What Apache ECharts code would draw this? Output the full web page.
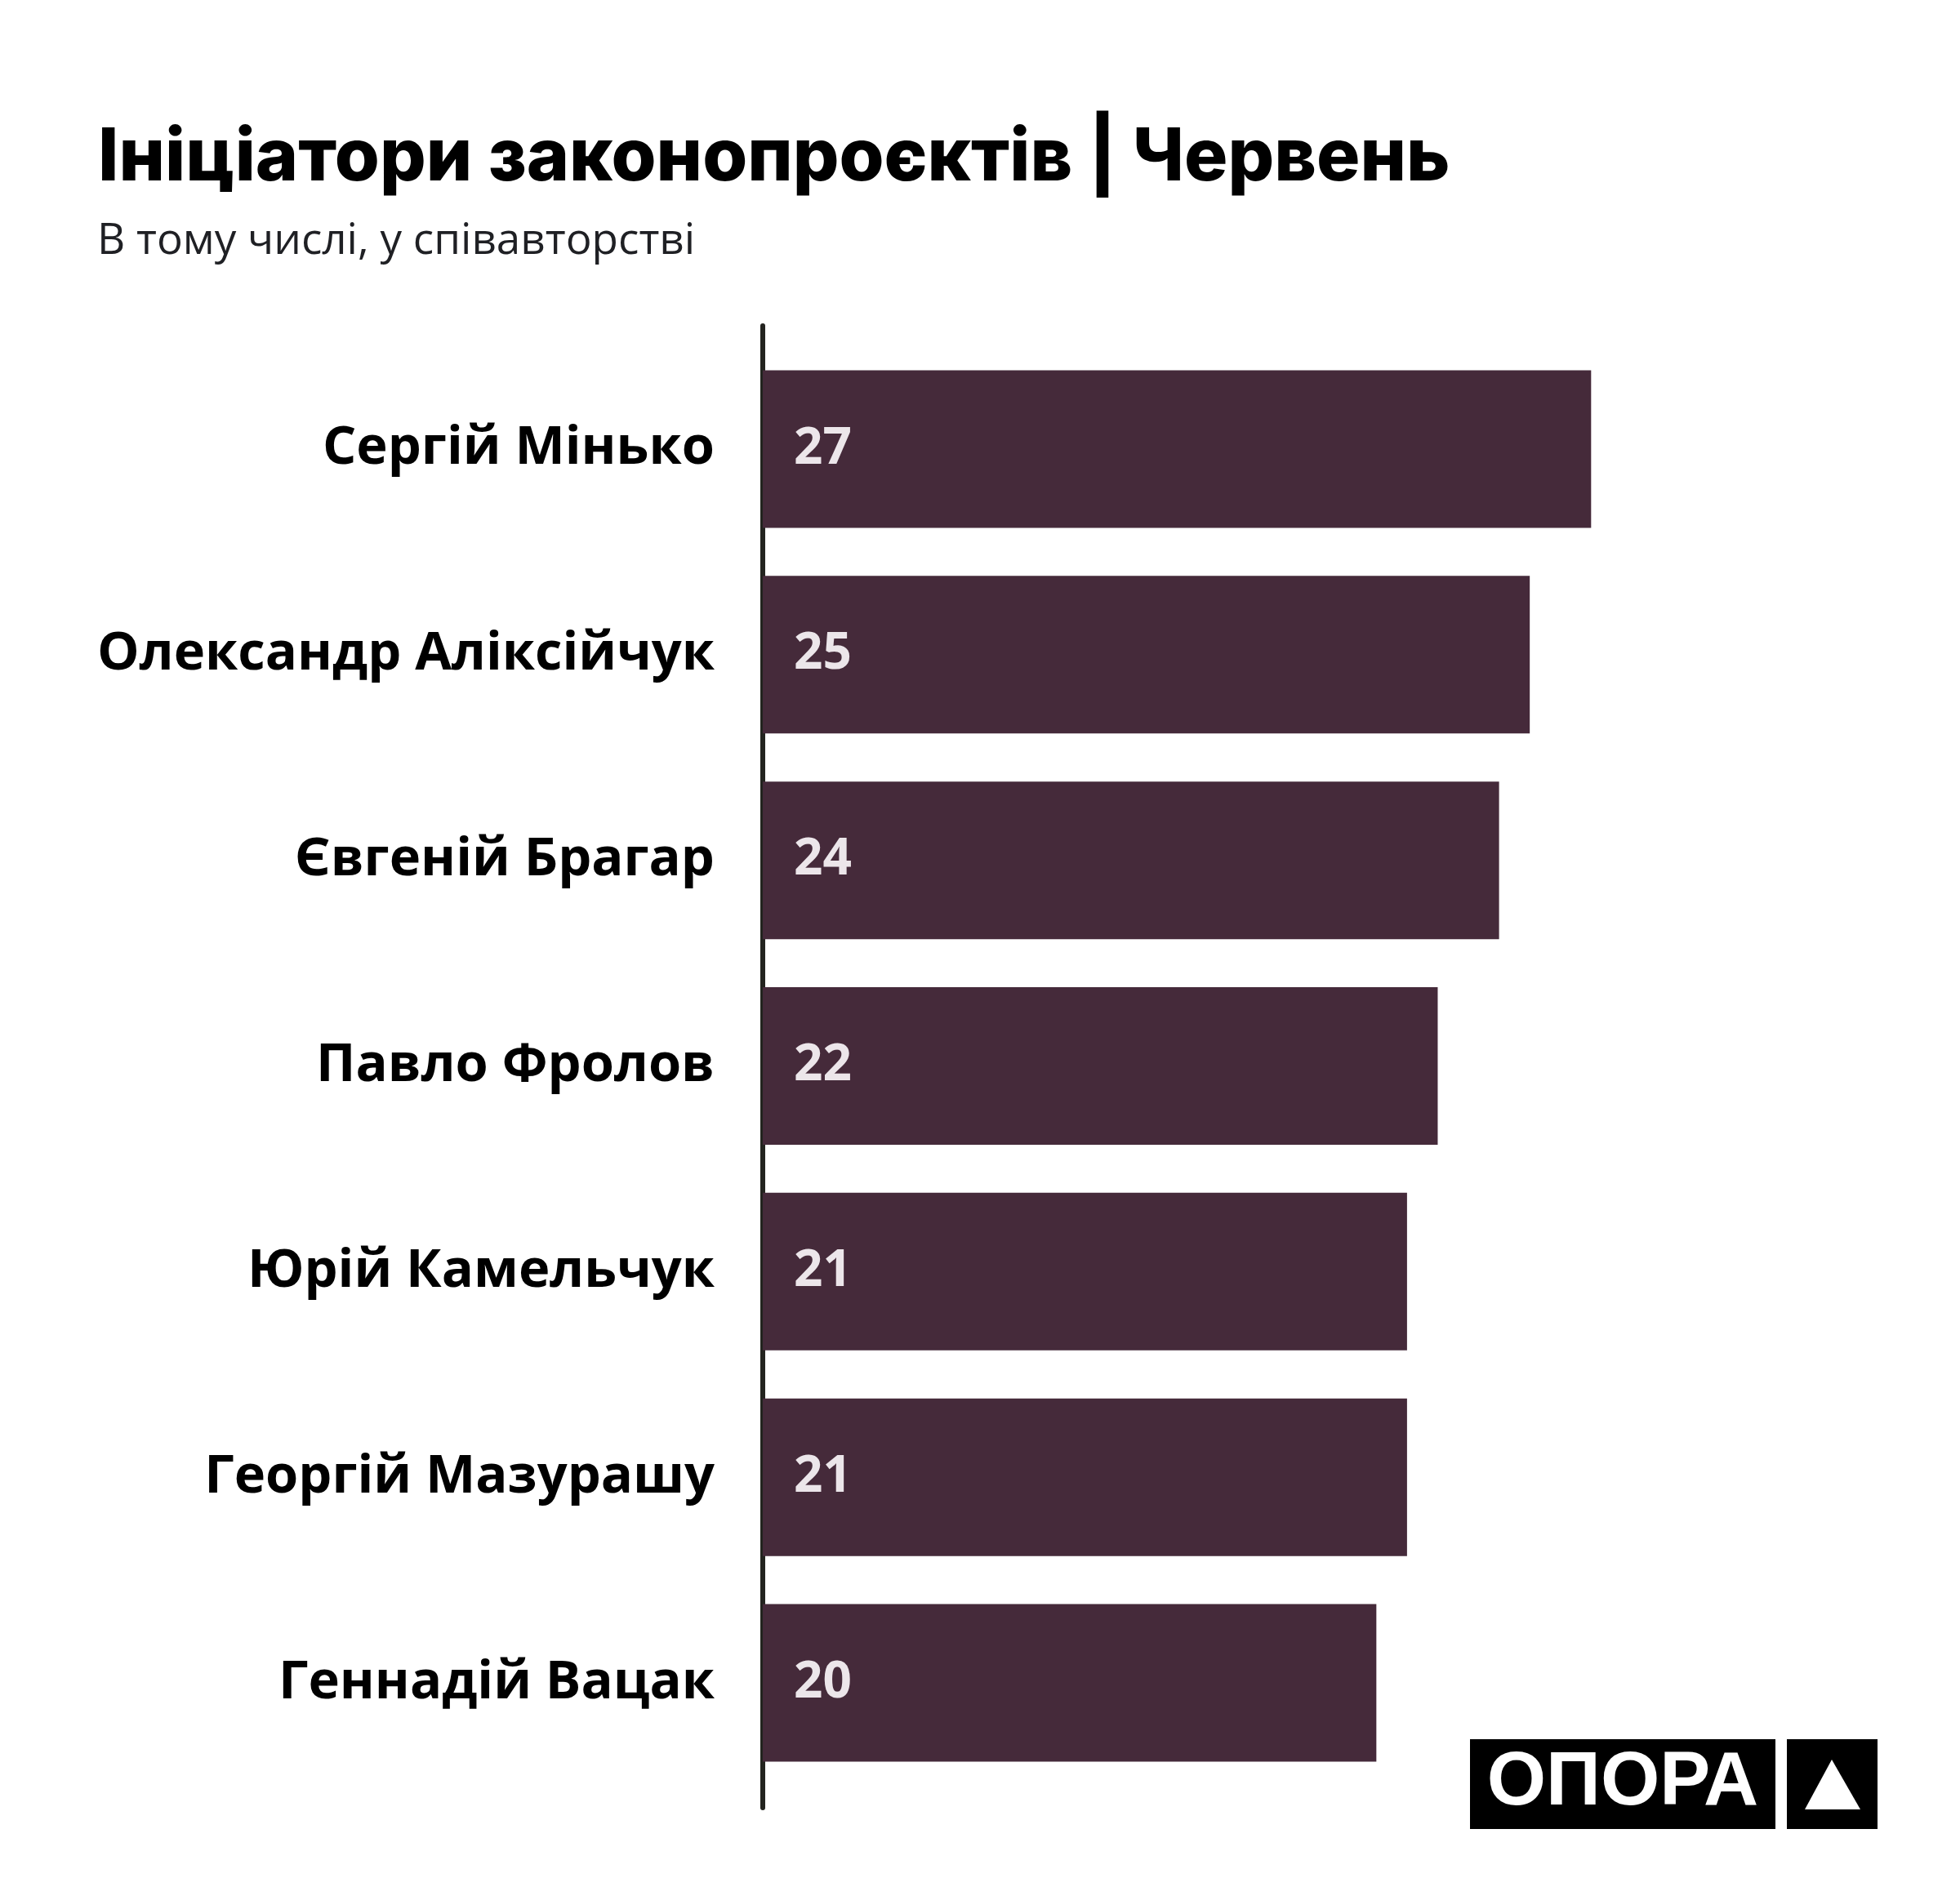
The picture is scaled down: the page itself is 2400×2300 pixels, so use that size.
<!DOCTYPE html>
<html>
<head>
<meta charset="utf-8">
<title>Ініціатори законопроєктів | Червень</title>
<script src="https://cdn.jsdelivr.net/npm/echarts@6/dist/echarts.min.js"></script>
<style>
  html, body { margin: 0; padding: 0; background: #fff; }
  #chart { width: 2400px; height: 2300px; }
</style>
</head>
<body>
<div id="chart"></div>
<script>
// дані
const names = [
  'Сергій Мінько',
  'Олександр Аліксійчук',
  'Євгеній Брагар',
  'Павло Фролов',
  'Юрій Камельчук',
  'Георгій Мазурашу',
  'Геннадій Вацак'
];
const counts = [27, 25, 24, 22, 21, 21, 20];

const titleText = 'Ініціатори законопроєктів | Червень';
const subtitleText = 'В тому числі, у співавторстві';
const logoText = 'ОПОРА';

const barColor = '#452a3a';
const labelFont = '"Open Sans", "Noto Sans", sans-serif';

const myChart = echarts.init(document.getElementById('chart'), null, { renderer: 'canvas' });

let option = {
  backgroundColor: '#fff',
  animation: false,
  title: [
    {
      text: titleText,
      left: 115,
      top: 145,
      textStyle: {
        fontFamily: 'Inter, "Open Sans", sans-serif',
        fontWeight: 800,
        fontSize: 89,
        lineHeight: 89,
        color: '#000'
      }
    },
    {
      text: subtitleText,
      left: 114,
      top: 264,
      textStyle: {
        fontFamily: labelFont,
        fontWeight: 'normal',
        fontSize: 53,
        lineHeight: 53,
        color: '#1f2024'
      }
    }
  ],
  grid: [
    // bars
    { left: 934, right: 339, top: 424, bottom: 113 },
    // vertical axis line only (runs a bit past the bars)
    { left: 934, width: 10, top: 399, bottom: 86 }
  ],
  xAxis: [
    {
      type: 'value',
      gridIndex: 0,
      min: 0,
      max: 30,
      show: false
    },
    {
      type: 'value',
      gridIndex: 1,
      show: false
    }
  ],
  yAxis: [
    {
      type: 'category',
      gridIndex: 0,
      data: names,
      inverse: true,
      axisLine: { show: false },
      axisTick: { show: false },
      splitLine: { show: false },
      axisLabel: {
        margin: 59,
        fontFamily: labelFont,
        fontWeight: 'bold',
        fontSize: 65,
        color: '#000'
      }
    },
    {
      type: 'category',
      gridIndex: 1,
      data: [],
      axisLine: {
        show: true,
        lineStyle: { color: '#23241f', width: 6 }
      },
      axisTick: { show: false },
      axisLabel: { show: false }
    }
  ],
  series: [
    {
      type: 'bar',
      xAxisIndex: 0,
      yAxisIndex: 0,
      data: counts,
      barWidth: 193,
      itemStyle: { color: barColor },
      label: {
        show: true,
        position: 'insideLeft',
        distance: 38,
        fontFamily: labelFont,
        fontWeight: 'bold',
        fontSize: 62,
        color: '#ece6ea'
      }
    }
  ],
  graphic: [
    {
      type: 'rect',
      shape: { x: 1800, y: 2130, width: 374, height: 110 },
      style: { fill: '#000' }
    },
    {
      type: 'rect',
      shape: { x: 2188, y: 2130, width: 111, height: 110 },
      style: { fill: '#000' }
    },
    {
      type: 'text',
      x: 1987,
      y: 2184,
      style: {
        text: logoText,
        fill: '#fff',
        font: 'bold 93px "Liberation Sans", Arial, sans-serif',
        align: 'center',
        verticalAlign: 'middle'
      }
    },
    {
      type: 'polygon',
      shape: { points: [[2243, 2155], [2278, 2216], [2210, 2216]] },
      style: { fill: '#fff' }
    }
  ]
};

myChart.setOption(option, true);
</script>
</body>
</html>
